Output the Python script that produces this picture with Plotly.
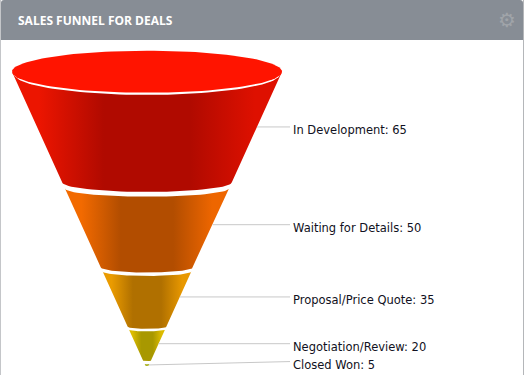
import numpy as np
import plotly.graph_objects as go

stages = ["In Development", "Waiting for Details", "Proposal/Price Quote", "Negotiation/Review", "Closed Won"]
values = [65, 50, 35, 20, 5]
side_colors = [("#ec1500", "#de1000"), ("#f26a00", "#ee6600"), ("#ea9b00", "#e89800"), ("#dcbb00", "#dcbb00"), ("#a8b020", "#a8b020")]
mid_colors = ["#b00a00", "#b24d00", "#b07000", "#a89800", "#a8b020"]
title_text = "SALES FUNNEL FOR DEALS"

W, H = 524, 375
HEAD = 40
CX, TOP_Y = 147, 71.7
total = sum(values)
PX_X = 135 / (total / 2)
PX_Y = 1.7
label_x = (293 - CX) / PX_X
leader_end = (290 - CX) / PX_X

x_range = [-CX / PX_X, (W - CX) / PX_X]
y_range = [(H - TOP_Y) / PX_Y, -TOP_Y / PX_Y]


def half(c):
    return (total - c) / 2


def arc(c, ratio):
    """Front half of the funnel's elliptical cross-section at cumulative value c."""
    t = np.linspace(np.pi, 0, 41)
    h = half(c)
    return h * np.cos(t), c + (h * PX_X * ratio / PX_Y) * np.sin(t)


fig = go.Figure()
cum = np.cumsum([0] + values)
for i, v in enumerate(values):
    c0, c1 = cum[i], cum[i + 1]
    if i == 0:
        a = c0
    else:
        gap = (2 + 0.05 * half(c0) * PX_X) / PX_Y
        a = c0 + gap
    if i == len(values) - 1:
        a = c1 - 3.0
        c1 = c1 - 2.0
    x0, y0 = arc(a, 0.10)
    x1, y1 = arc(c1, 0.115)
    xs = np.concatenate([x0, x1[::-1], x0[:1]])
    ys = np.concatenate([y0, y1[::-1], y0[:1]])
    left, right = side_colors[i]
    fig.add_trace(go.Scatter(
        x=xs, y=ys, mode="lines", line=dict(width=0), fill="toself",
        fillgradient=dict(type="horizontal", colorscale=[
            [0, left], [0.1, left], [0.34, mid_colors[i]], [0.66, mid_colors[i]], [0.9, right], [1, right]]),
        hoverinfo="skip", showlegend=False))

# top opening of the funnel
t = np.linspace(0, 2 * np.pi, 121)
for colour, shift, rx in [("#ffffff", 2.2 / PX_Y, 0.985), ("#ff1400", 0, 1.0)]:
    fig.add_trace(go.Scatter(
        x=rx * half(0) * np.cos(t), y=shift + 21 / PX_Y * np.sin(t),
        mode="lines", line=dict(width=0), fill="toself", fillcolor=colour,
        hoverinfo="skip", showlegend=False))

annotations = [
    dict(xref="paper", yref="paper", x=15.5 / W, y=1 - 20 / H, xanchor="left", yanchor="middle",
         text=f"<b>{title_text}</b>", showarrow=False,
         font=dict(family="Open Sans", size=12, color="#ffffff")),
    dict(xref="paper", yref="paper", x=507 / W, y=1 - 20 / H, xanchor="center", yanchor="middle",
         text="\u2699", showarrow=False, font=dict(family="DejaVu Sans", size=20, color="#a0a4a9")),
]

# leader lines and labels
for i, (s, v) in enumerate(zip(stages, values)):
    mid = cum[i] + v / 2
    is_last = i == len(values) - 1
    end_y = mid - 2.0 if is_last else mid
    fig.add_trace(go.Scatter(
        x=[half(mid), leader_end], y=[mid, end_y], mode="lines",
        line=dict(color="#c8c8c8", width=1), hoverinfo="skip", showlegend=False))
    annotations.append(dict(
        x=label_x, y=end_y, xanchor="left", yanchor="middle", text=f"{s}: {v}", showarrow=False,
        xshift=-2, yshift=-3,
        font=dict(family="DejaVu Sans", size=11.5, color="#111122")))


def header_path():
    def X(p): return x_range[0] + p / PX_X
    def Y(p): return (p - TOP_Y) / PX_Y
    return (f"M {X(1)} {Y(HEAD)} L {X(1)} {Y(3)} Q {X(1)} {Y(0)} {X(4)} {Y(0)} "
            f"L {X(W-4)} {Y(0)} Q {X(W-1)} {Y(0)} {X(W-1)} {Y(3)} L {X(W-1)} {Y(HEAD)} Z")


shapes = [
    dict(type="path", path=header_path(), fillcolor="#878d95", line=dict(width=0), layer="below"),
    dict(type="line", xref="paper", yref="paper", x0=0.5 / W, x1=0.5 / W, y0=0, y1=1,
         line=dict(color="#c4c6c9", width=1), layer="below"),
    dict(type="line", xref="paper", yref="paper", x0=1 - 0.5 / W, x1=1 - 0.5 / W, y0=0, y1=1,
         line=dict(color="#b4b6b9", width=1), layer="below"),
]

fig.update_layout(
    width=W, height=H, margin=dict(l=0, r=0, t=0, b=0),
    paper_bgcolor="#ffffff", plot_bgcolor="#ffffff",
    xaxis=dict(range=x_range, visible=False, fixedrange=True),
    yaxis=dict(range=y_range, visible=False, fixedrange=True),
    annotations=annotations, shapes=shapes, showlegend=False,
)
fig.write_html("out.html", config={"displayModeBar": False},
               post_script="document.body.style.margin='0';document.body.style.overflow='hidden';")
